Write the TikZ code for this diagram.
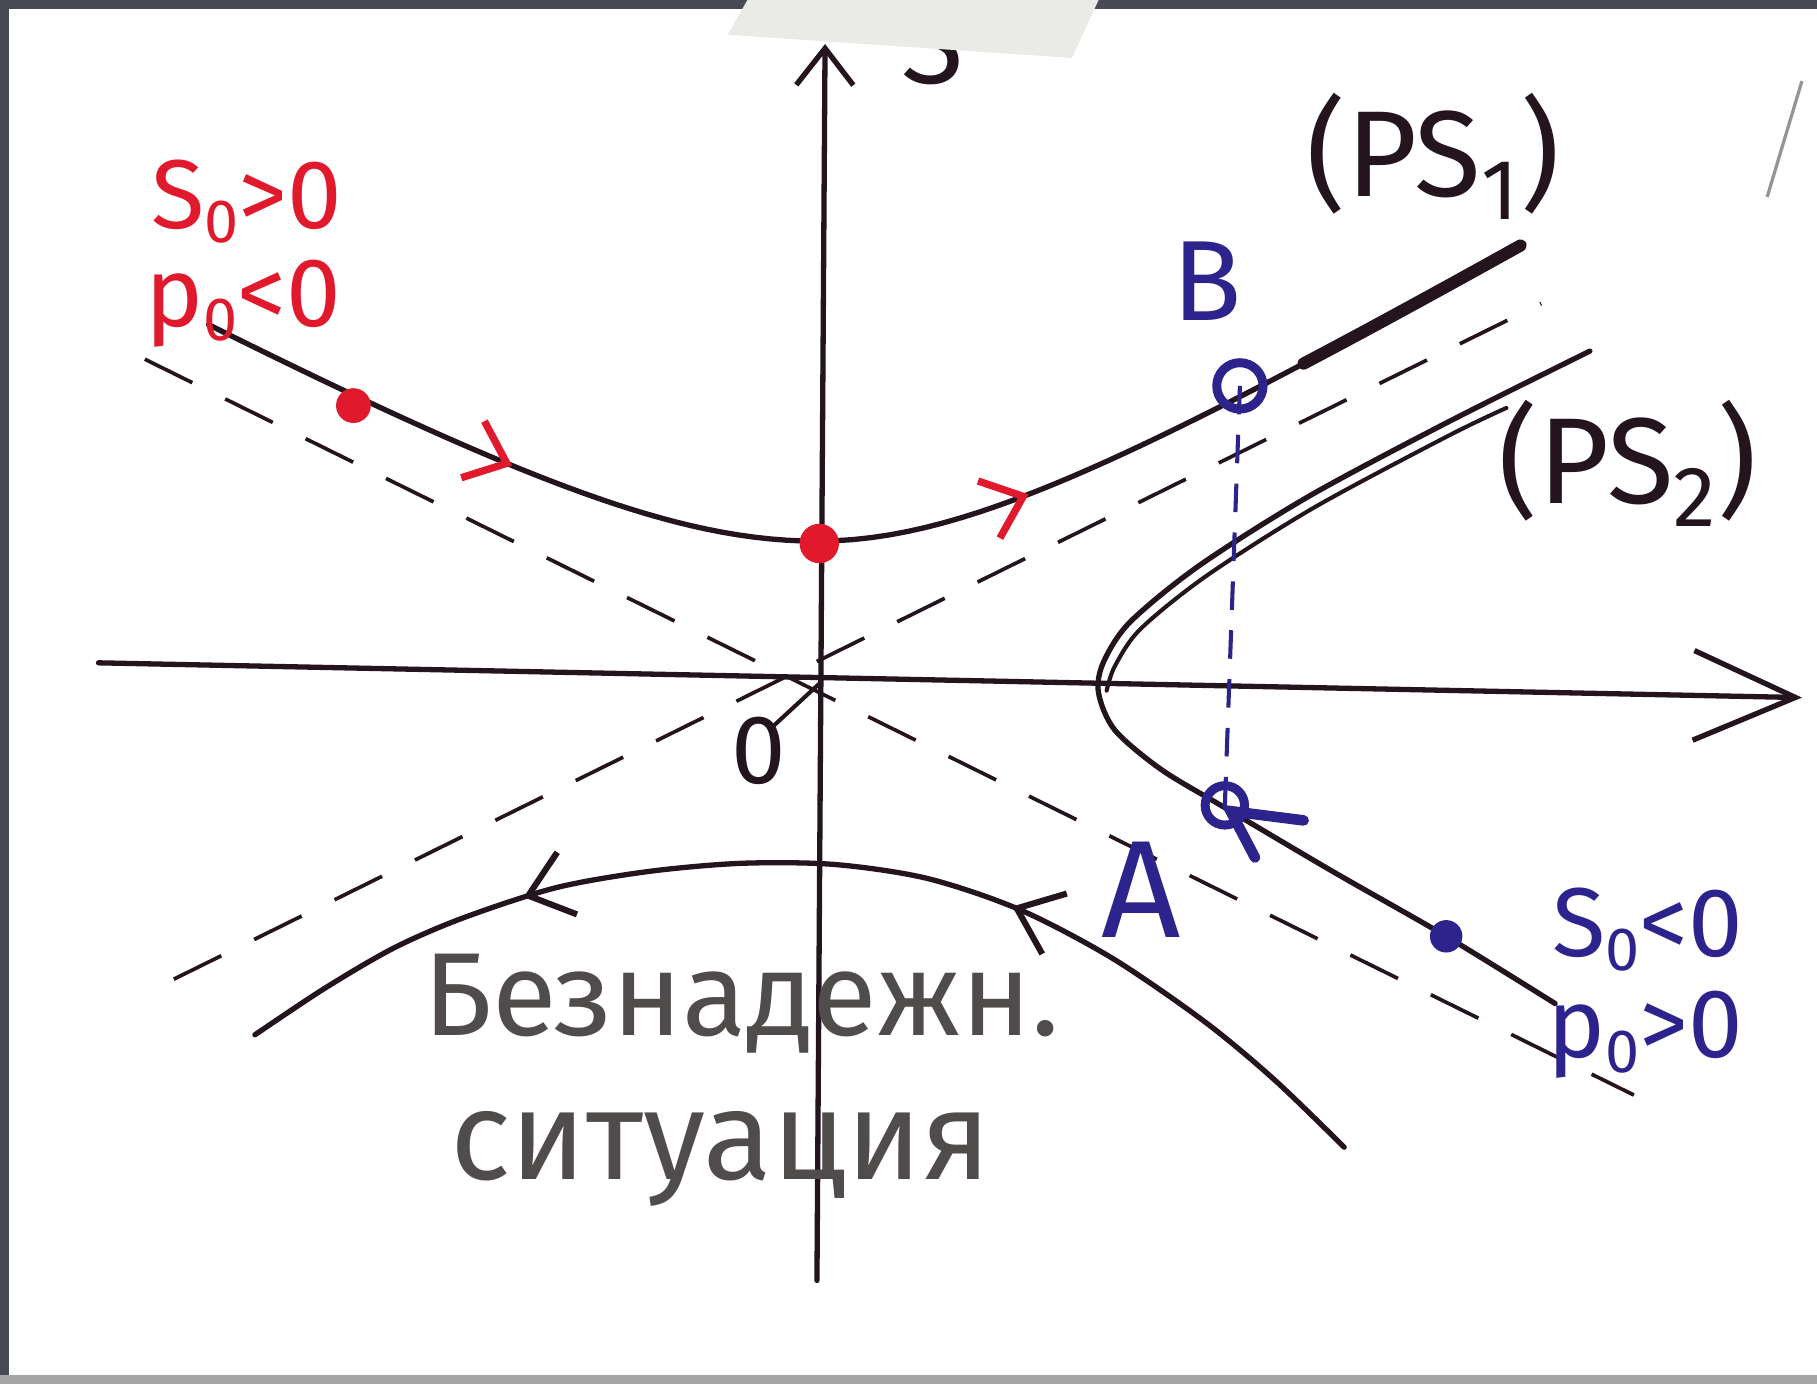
\documentclass[tikz,border=0pt]{standalone}
\usepackage{fontspec}
\setmainfont{Fira Sans}
\usetikzlibrary{arrows.meta,decorations.markings}

\definecolor{inkred}{RGB}{225,25,45}
\definecolor{inkblue}{RGB}{45,35,140}
\definecolor{ink}{RGB}{35,20,30}
\definecolor{pencil}{RGB}{80,76,76}
\definecolor{framegray}{RGB}{72,74,84}
\definecolor{tape}{RGB}{234,235,230}

\tikzset{
    curve/.style={ink, line width=1.3pt, line cap=round},
    asym/.style={ink, line width=0.9pt, dash pattern=on 13pt off 9pt},
    axis/.style={ink, line width=1.3pt, line cap=round},
    redlbl/.style={text=inkred, font=\fontsize{24}{26}\selectfont, inner sep=0pt},
    bluelbl/.style={text=inkblue, font=\fontsize{24}{26}\selectfont, inner sep=0pt},
    inklbl/.style={text=ink, font=\fontsize{28}{30}\selectfont, inner sep=0pt},
    pencillbl/.style={text=pencil, font=\fontsize{29}{31}\selectfont, inner sep=0pt},
    redtip/.style={inkred, line width=1.8pt},
}
\newcommand{\lowsub}[1]{\raisebox{-0.28ex}{\fontsize{15}{17}\selectfont #1}}

\begin{document}
\begin{tikzpicture}[x=0.01cm, y=-0.01cm]

        \useasboundingbox (0,0) rectangle (1568,1194);
        \fill[white] (0,0) rectangle (1568,1194);

        % --- ASYMPTOTES ---
        \coordinate (O) at (707,590);
        \draw[asym] (150,845) -- (1330,262);
        \draw[asym] (125,310) -- (1410,945);

        % --- AXES ---
        \draw[axis, -{Straight Barb[length=25pt, width=22pt, line width=1.3pt]}] (85,572) -- (1555,602);
        \draw[axis, -{Straight Barb[length=9pt, width=14pt, line width=1.3pt]}] (705,1105) -- (712,38);
        \node[inklbl] (s_axis) at (805,38) {S};
        \node[inklbl, font=\fontsize{24}{26}\selectfont] (zero) at (655,648) {0};
        \draw[axis, line width=1pt] (668,626) -- (O);

        % --- UPPER BRANCH (PS1) ---
        \draw[curve, postaction={decorate}, decoration={markings,
            mark=at position 0.235 with {\arrow[redtip]{Straight Barb[length=9pt, width=15pt]}},
            mark=at position 0.61 with {\arrow[redtip]{Straight Barb[length=9pt, width=15pt]}}}]
            plot[domain=180:705, samples=40] (\x, {590 - 100*sqrt(1.23^2 + (0.00542*(\x-705))^2)})
            -- plot[domain=705:1315, samples=40] (\x, {590 - 100*sqrt(1.23^2 + (0.00589*(\x-705))^2)});
        \draw[ink, line width=3pt, line cap=round]
            plot[domain=1125:1312, samples=12] (\x, {590 - 100*sqrt(1.23^2 + (0.00589*(\x-705))^2)});

        % --- RIGHT BRANCH (PS2) ---
        \draw[curve] plot[smooth] coordinates {(1372,303) (1250,364) (1130,428) (1035,488) (975,537) (952,572) (948,598) (962,630) (1002,664) (1057,697) (1150,752) (1248,808) (1342,866)};
        \draw[curve, line width=1pt] plot[smooth] coordinates {(1300,352) (1250,376) (1134,438) (1041,497) (984,543) (962,575) (955,596)};

        % --- LOWER BRANCH ---
        \draw[curve, postaction={decorate}, decoration={markings,
            mark=at position 0.25 with {\arrowreversed[line width=1.5pt]{Straight Barb[length=10pt, width=16pt]}},
            mark=at position 0.66 with {\arrowreversed[line width=1.5pt]{Straight Barb[length=10pt, width=16pt]}}}]
            plot[smooth] coordinates {(220,893) (280,853) (340,818) (400,792) (480,766) (560,752) (640,745) (720,746) (800,758) (880,785) (960,827) (1040,882) (1100,932) (1160,990)};

        % --- POINTS ---
        \fill[inkred] (305,350) circle (15);
        \fill[inkred] (707,469) circle (17);
        \fill[inkblue] (1248,808) circle (14);
        \coordinate (B) at (1070,333);
        \coordinate (A) at (1057,695);
        \draw[inkblue, line width=1pt, dash pattern=on 7pt off 5pt] (B) -- (A);
        \draw[inkblue, line width=2.2pt] (B) circle (20);
        \draw[inkblue, line width=2.2pt] (A) circle (17);
        \draw[inkblue, line width=2.6pt, line cap=round] (1125,708) -- (1062,700) -- (1083,740);

        % --- LABELS ---
        \node[redlbl] (s0pos) at (213,174) {S\lowsub{0}>0};
        \node[redlbl] (p0neg) at (210,262) {p\lowsub{0}<0};
        \node[bluelbl, font=\fontsize{28}{30}\selectfont] (lblB) at (1042,243) {B};
        \node[bluelbl, font=\fontsize{34}{36}\selectfont] (lblA) at (985,768) {A};
        \node[bluelbl] (s0neg) at (1422,802) {S\lowsub{0}<0};
        \node[bluelbl] (p0pos) at (1420,893) {p\lowsub{0}>0};
        \node[inklbl, font=\fontsize{30}{32}\selectfont] (ps1) at (1237,135) {(PS\textsubscript{1})};
        \node[inklbl, font=\fontsize{30}{32}\selectfont] (ps2) at (1405,400) {(PS\textsubscript{2})};
        \node[pencillbl] (hope1) at (640,866) {Безнадежн.};
        \node[pencillbl, font=\fontsize{31}{33}\selectfont] (hope2) at (622,1000) {ситуация};

        % --- PAPER EDGES ---
        \fill[framegray] (0,0) rectangle (1568,8);
        \fill[framegray] (0,0) rectangle (8,1194);
        \fill[gray!70] (0,1187) rectangle (1568,1194);
        \fill[tape] (645,0) -- (948,0) -- (925,50) -- (628,30) -- cycle;
        \draw[pencil!60, line width=0.8pt] (1525,170) -- (1555,70);

    \end{tikzpicture}
\end{document}
